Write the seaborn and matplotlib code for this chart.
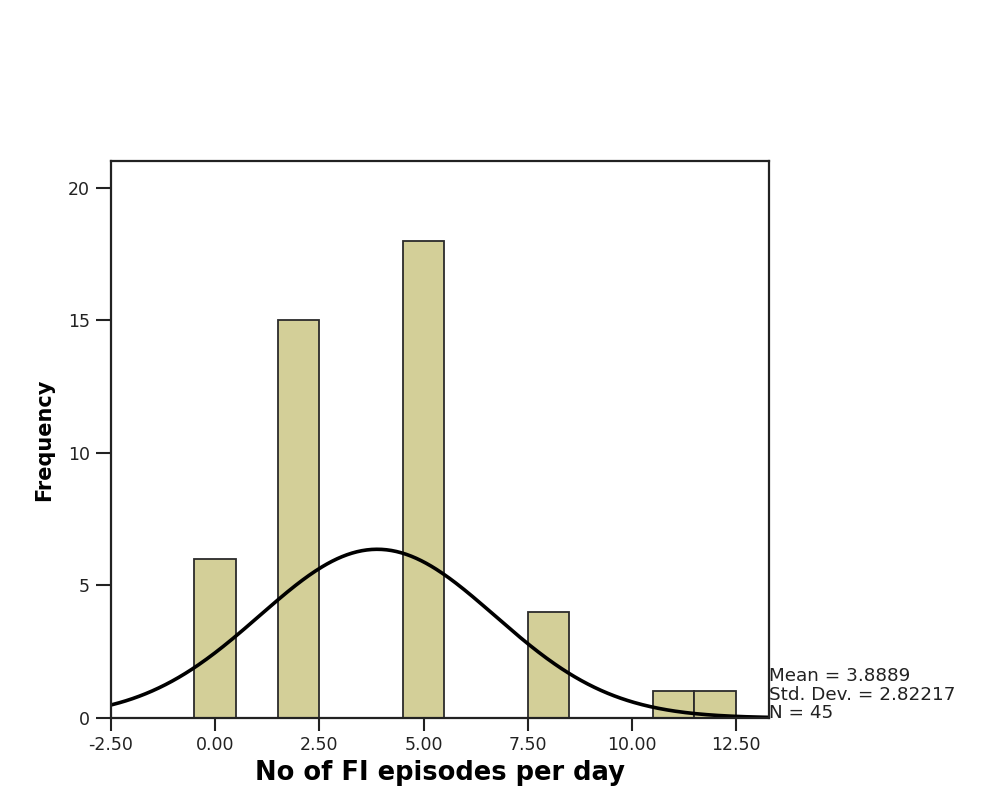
import numpy as np
import pandas as pd
import seaborn as sns
import matplotlib.pyplot as plt

# Data (bin centres and frequencies)
episodes = [0, 2, 5, 8, 11, 12]
counts = [6, 15, 18, 4, 1, 1]
x_ticks = [-2.5, 0.0, 2.5, 5.0, 7.5, 10.0, 12.5]
y_ticks = [0, 5, 10, 15, 20]

data = pd.DataFrame({'episodes': np.repeat(episodes, counts)})
mean = data['episodes'].mean()
sd = data['episodes'].std()
n = len(data)

sns.set_style('white')
plt.rcParams['font.family'] = ['DejaVu Sans']

fig = plt.figure(figsize=(10.06, 8), dpi=100)
ax = fig.add_axes([0.1103, 0.1025, 0.6541, 0.69625])

# Histogram with unit bins
sns.histplot(data=data, x='episodes', bins=np.arange(-0.5, 13, 1),
             color='#d3cf98', edgecolor='#2b2b2b', linewidth=1.3,
             alpha=1, ax=ax)

# Normal curve scaled to counts
xs = np.linspace(-2.5, 13.3, 400)
ys = n * 1.0 * np.exp(-0.5 * ((xs - mean) / sd) ** 2) / (sd * np.sqrt(2 * np.pi))
sns.lineplot(x=xs, y=ys, color='black', linewidth=2.6, ax=ax)

ax.set_xlim(-2.5, 13.29)
ax.set_ylim(0, 21)
ax.set_xticks(x_ticks)
ax.set_xticklabels([f'{t:.2f}' for t in x_ticks])
ax.set_yticks(y_ticks)

for s in ax.spines.values():
    s.set_visible(True)
    s.set_linewidth(1.6)
    s.set_color('#222222')

ax.tick_params(axis='x', length=9, width=1.5, direction='out', labelsize=12.5,
               pad=4, colors='#222222', bottom=True)
ax.tick_params(axis='y', length=11, width=1.5, direction='out', labelsize=12.5,
               pad=4, colors='#222222', left=True)

ax.set_xlabel('No of FI episodes per day', fontsize=18.5, fontweight='bold',
              labelpad=4, color='black')
ax.set_ylabel('Frequency', fontsize=15, fontweight='heavy', labelpad=10,
              color='black')

# Summary statistics next to the plot
stats = [f'Mean = {mean:.4f}', f'Std. Dev. = {sd:.5f}', f'N = {n}']
for i, line in enumerate(stats):
    fig.text(769 / 1006, 1 - (676 + 18.5 * i) / 800, line, fontsize=13.2,
             color='#222222', ha='left', va='center')

fig.savefig('out.png', dpi=100)
